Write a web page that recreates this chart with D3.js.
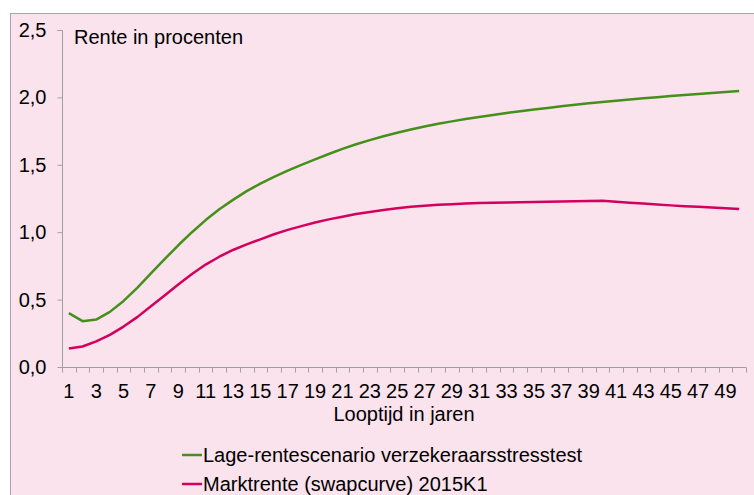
<!DOCTYPE html>
<html>
<head>
<meta charset="utf-8">
<script src="https://cdn.jsdelivr.net/npm/d3@7/dist/d3.min.js"></script>
<style>
  html, body { margin: 0; padding: 0; background: #ffffff; }
  svg { display: block; }
  text { font-family: "Liberation Sans", Arial, sans-serif; fill: #000; }
</style>
</head>
<body>
<svg id="chart" width="754" height="495"></svg>
<script>
// ---- data ----
const years = d3.range(1, 51);
const yTicks = [0, 0.5, 1.0, 1.5, 2.0, 2.5];
const xTickLabels = d3.range(1, 51, 2);
const seriesNames = ["Lage-rentescenario verzekeraarsstresstest", "Marktrente (swapcurve) 2015K1"];
const lageRente = [
  0.40, 0.34, 0.352, 0.409, 0.49, 0.587, 0.694, 0.80, 0.903, 1.00,
  1.09, 1.17, 1.24, 1.305, 1.36, 1.41, 1.457, 1.50, 1.54, 1.58,
  1.618, 1.652, 1.683, 1.712, 1.738, 1.762, 1.784, 1.804, 1.822, 1.839,
  1.855, 1.87, 1.884, 1.897, 1.91, 1.922, 1.934, 1.945, 1.956, 1.966,
  1.976, 1.985, 1.994, 2.002, 2.01, 2.018, 2.026, 2.033, 2.04, 2.047
];
const marktrente = [
  0.137, 0.152, 0.19, 0.238, 0.30, 0.37, 0.45, 0.53, 0.612, 0.69,
  0.76, 0.818, 0.868, 0.91, 0.947, 0.985, 1.017, 1.045, 1.072, 1.095,
  1.115, 1.135, 1.15, 1.165, 1.178, 1.188, 1.196, 1.203, 1.208, 1.213,
  1.216, 1.218, 1.22, 1.222, 1.224, 1.226, 1.228, 1.23, 1.232, 1.234,
  1.226, 1.219, 1.212, 1.205, 1.199, 1.193, 1.188, 1.183, 1.178, 1.173
];
const colors = ["#44901a", "#d4005e"];

// ---- layout ----
const svg = d3.select("#chart");
const W = 754, H = 495;
const plot = { left: 62, right: 746, top: 30, bottom: 367 };
const FS = "20px";

svg.append("rect")
  .attr("x", 10.5).attr("y", 13.5)
  .attr("width", W - 10.5 + 5).attr("height", H - 13.5 + 5)
  .attr("fill", "#fae3ed").attr("stroke", "#a6a6a6").attr("stroke-width", 1);

const x = d3.scaleBand().domain(years).range([plot.left, plot.right]).paddingInner(0).paddingOuter(0);
const y = d3.scaleLinear().domain([0, 2.5]).range([plot.bottom, plot.top]);
const fmt = v => d3.format(".1f")(v).replace(".", ",");

// y axis
const yAxis = d3.axisLeft(y).tickValues(yTicks).tickFormat(fmt).tickSize(5).tickPadding(11);
const gy = svg.append("g").attr("transform", `translate(${plot.left + 0.5},0)`).call(yAxis);
gy.select(".domain").attr("stroke", "#a0a0a0").attr("d", `M-5,${plot.top + 0.5}H0V${plot.bottom}`);
gy.selectAll(".tick line").attr("stroke", "#a0a0a0");
gy.selectAll(".tick text").style("font-size", FS).attr("fill", "#000")
  .style("font-family", "'Liberation Sans', Arial, sans-serif");

// x axis
const gx = svg.append("g").attr("transform", `translate(0,${plot.bottom + 0.5})`);
gx.append("line").attr("x1", plot.left).attr("x2", plot.right).attr("y1", 0).attr("y2", 0)
  .attr("stroke", "#a0a0a0");
const boundaries = years.map(d => x(d)).concat([x(years[years.length - 1]) + x.bandwidth()]);
gx.selectAll("line.tk").data(boundaries).join("line").attr("class", "tk")
  .attr("x1", d => Math.round(d) + 0.5).attr("x2", d => Math.round(d) + 0.5)
  .attr("y1", 0).attr("y2", 5).attr("stroke", "#a0a0a0");
gx.selectAll("text.xl").data(xTickLabels).join("text").attr("class", "xl")
  .attr("x", d => x(d) + x.bandwidth() / 2).attr("y", 30)
  .attr("text-anchor", "middle").style("font-size", FS).text(d => d);

svg.append("text").attr("x", (plot.left + plot.right) / 2).attr("y", 421)
  .attr("text-anchor", "middle").style("font-size", FS).text("Looptijd in jaren");

svg.append("text").attr("x", 74).attr("y", 44).style("font-size", FS).text("Rente in procenten");

// lines
const line = d3.line().x((d, i) => x(years[i]) + x.bandwidth() / 2).y(d => y(d));
[lageRente, marktrente].forEach((s, i) => {
  svg.append("path").datum(s).attr("d", line).attr("fill", "none")
    .attr("stroke", colors[i]).attr("stroke-width", 2.5).attr("stroke-linejoin", "round");
});

// legend
const lg = svg.append("g");
seriesNames.forEach((name, i) => {
  const ly = 455 + i * 29;
  lg.append("line").attr("x1", 182).attr("x2", 202).attr("y1", ly).attr("y2", ly)
    .attr("stroke", colors[i]).attr("stroke-width", 2.5);
  lg.append("text").attr("x", 203).attr("y", ly + 7).style("font-size", FS).text(name);
});
</script>
</body>
</html>
